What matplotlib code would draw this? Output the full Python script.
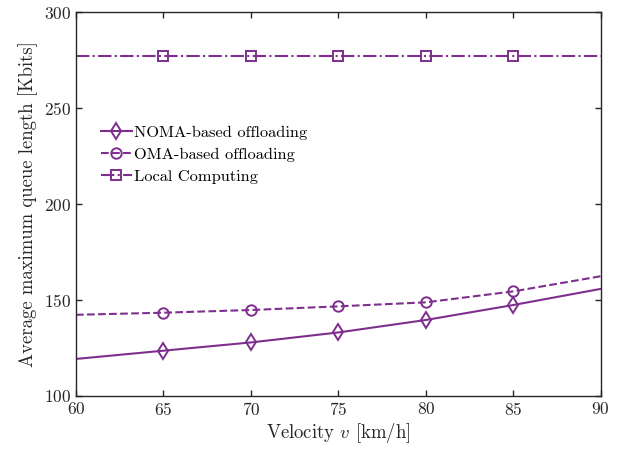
import matplotlib
matplotlib.use("Agg")
import matplotlib.pyplot as plt

plt.rcParams['font.family'] = 'serif'
plt.rcParams['font.serif'] = ['cmr10', 'DejaVu Serif']
plt.rcParams['mathtext.fontset'] = 'cm'
plt.rcParams['axes.formatter.use_mathtext'] = True

velocity = [60, 65, 70, 75, 80, 85, 90]
noma = [119.3, 123.6, 127.9, 133.1, 139.6, 147.4, 155.8]
oma = [142.3, 143.4, 144.8, 146.7, 148.8, 154.5, 162.4]
local = [277.2, 277.2, 277.2, 277.2, 277.2, 277.2, 277.2]
labels = ['NOMA-based offloading', 'OMA-based offloading', 'Local Computing']

color = '#7E2F8E'
fig = plt.figure(figsize=(6.33, 4.51), dpi=100)
ax = fig.add_axes([0.120, 0.122, 0.829, 0.851])

mk = slice(1, 6)
ax.plot(velocity, noma, '-', color=color, lw=1.5, marker='d', ms=8, mfc='none',
        mew=1.4, markevery=mk, label=labels[0])
ax.plot(velocity, oma, '--', color=color, lw=1.5, marker='o', ms=7.5, mfc='none',
        mew=1.4, markevery=mk, label=labels[1])
ax.plot(velocity, local, '-.', color=color, lw=1.5, marker='s', ms=6.5, mfc='none',
        mew=1.4, markevery=mk, label=labels[2])

ax.set_xlim(60, 90)
ax.set_ylim(100, 300)
ax.set_xticks([60, 65, 70, 75, 80, 85, 90])
ax.set_yticks([100, 150, 200, 250, 300])
ax.tick_params(direction='in', top=True, right=True, labelsize=12.5,
               colors='#262626', length=4, width=1)
for s in ax.spines.values():
    s.set_color('#262626')
    s.set_linewidth(1)
ax.set_xlabel(r'Velocity $v$ [km/h]', fontsize=13.5, color='#262626', labelpad=2)
ax.set_ylabel('Average maximum queue length [Kbits]', fontsize=13.5, color='#262626', labelpad=4)

leg = ax.legend(loc='upper left', bbox_to_anchor=(0.025, 0.735), frameon=False,
                fontsize=11.8, handlelength=1.9, handletextpad=0.15,
                labelspacing=0.45, borderpad=0.2)

fig.savefig('out.png', dpi=100)
